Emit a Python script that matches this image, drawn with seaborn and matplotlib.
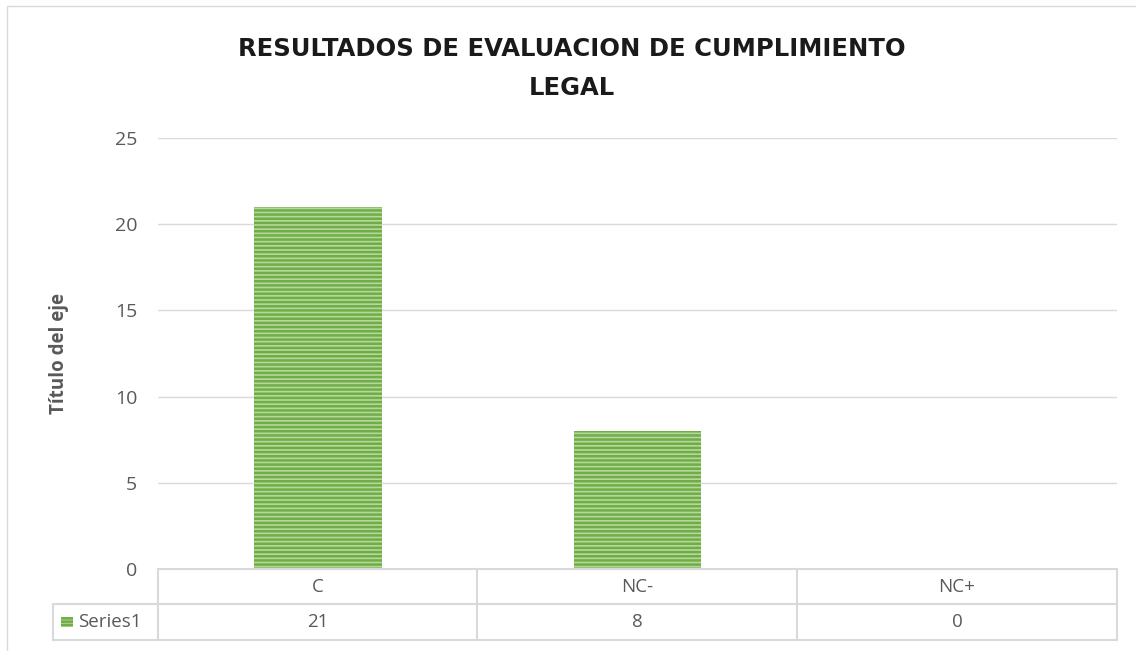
import pandas as pd
import seaborn as sns
import matplotlib.pyplot as plt
from matplotlib.patches import Rectangle
from matplotlib.lines import Line2D

# Data
categorias = ["C", "NC-", "NC+"]
valores = [21, 8, 0]
serie = "Series1"
titulo = "RESULTADOS DE EVALUACION DE CUMPLIMIENTO\nLEGAL"
eje_y = "Título del eje"
yticks = [0, 5, 10, 15, 20, 25]

df = pd.DataFrame({"categoria": categorias, "valor": valores})

sns.set_style("white")
plt.rcParams["font.family"] = ["Open Sans", "DejaVu Sans"]
plt.rcParams["hatch.linewidth"] = 1.8

gris = "#595959"
linea = "#d9d9d9"
verde_claro = "#b5d99c"
verde = "#70ad47"

fig = plt.figure(figsize=(11.36, 6.51), dpi=100)
ax = fig.add_axes([158 / 1136, (651 - 569) / 651, (1117 - 158) / 1136, (569 - 138) / 651])

sns.barplot(data=df, x="categoria", y="valor", color=verde_claro, width=0.4,
            saturation=1, ax=ax)
for p in ax.patches:
    p.set_hatch("----")
    p.set_edgecolor(verde)
    p.set_linewidth(0)

ax.set_xlim(-0.5, 2.5)
ax.set_ylim(0, 25)
ax.set_yticks(yticks)
ax.yaxis.grid(True, color=linea, linewidth=1)
ax.set_axisbelow(True)
for s in ax.spines.values():
    s.set_visible(False)
ax.tick_params(axis="y", length=0, pad=15, labelsize=14, labelcolor=gris)
ax.set_xticks([])
ax.set_xlabel("")
ax.set_ylabel(eje_y, fontsize=13.5, fontweight="bold", color=gris, labelpad=33)

# title: wide bold font to approach the spaced-out lettering
t1, t2 = titulo.split("\n")
fig.text(0.503, 1 - 49 / 651, t1, ha="center", va="center", fontsize=17.5,
         fontweight="bold", color="#1a1a1a", family="DejaVu Sans")
fig.text(0.503, 1 - 88 / 651, t2, ha="center", va="center", fontsize=17.5,
         fontweight="bold", color="#1a1a1a", family="DejaVu Sans")

# Data table under the axis
def fx(px):
    return px / 1136

def fy(py):
    return 1 - py / 651

cols = [158, 477, 797, 1117]
y0, y1, y2 = 569, 604, 640
kw = dict(color=linea, linewidth=1.5, transform=fig.transFigure)
fig.add_artist(Line2D([fx(158), fx(1117)], [fy(y0), fy(y0)], **kw))
fig.add_artist(Line2D([fx(53), fx(1117)], [fy(y1), fy(y1)], **kw))
fig.add_artist(Line2D([fx(53), fx(1117)], [fy(y2), fy(y2)], **kw))
fig.add_artist(Line2D([fx(53), fx(53)], [fy(y1), fy(y2)], **kw))
for c in cols:
    fig.add_artist(Line2D([fx(c), fx(c)], [fy(y0), fy(y2)], **kw))

for i, (cat, val) in enumerate(zip(categorias, valores)):
    cx = fx((cols[i] + cols[i + 1]) / 2)
    fig.text(cx, fy((y0 + y1) / 2), cat, ha="center", va="center", fontsize=13.5, color=gris)
    fig.text(cx, fy((y1 + y2) / 2), str(val), ha="center", va="center", fontsize=13.5, color=gris)

fig.add_artist(Rectangle((fx(61), fy(627)), fx(12), fy(617) - fy(627), facecolor=verde_claro,
                         edgecolor=verde, hatch="-----", linewidth=0, transform=fig.transFigure))
fig.text(fx(78), fy((y1 + y2) / 2), serie, ha="left", va="center", fontsize=13.5, color=gris)

# chart border
fig.add_artist(Rectangle((fx(7), fy(700)), fx(1200), fy(6) - fy(700), fill=False,
                         edgecolor=linea, linewidth=1, transform=fig.transFigure))

fig.savefig("out.png", dpi=100)
